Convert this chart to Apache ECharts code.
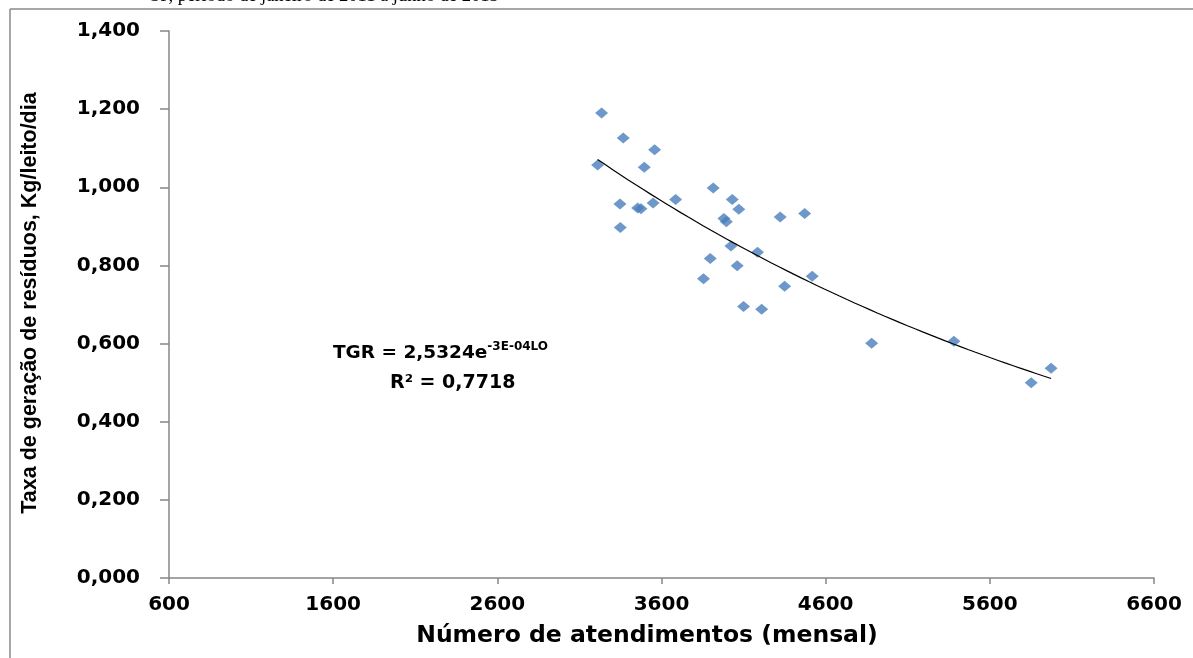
<!DOCTYPE html>
<html>
<head>
<meta charset="utf-8">
<script src="https://cdn.jsdelivr.net/npm/echarts@6/dist/echarts.min.js"></script>
<style>
html,body{margin:0;padding:0;background:#fff;overflow:hidden;}
#chart{width:1193px;height:658px;}
</style>
</head>
<body>
<div id="chart"></div>
<script>
// Data
const atendimentos = [3235, 3367, 3558, 3211, 3495, 3915, 4031, 3686, 3347, 3455, 3475, 3549, 4071, 3980, 3995, 4323, 4472, 3349, 4023, 4185, 3897, 4061, 3856, 4518, 4350, 4100, 4210, 4880, 5381, 5852, 5973];
const taxaGeracao = [1.190, 1.126, 1.096, 1.057, 1.051, 0.998, 0.969, 0.969, 0.957, 0.947, 0.945, 0.960, 0.944, 0.920, 0.912, 0.924, 0.933, 0.897, 0.850, 0.834, 0.818, 0.799, 0.766, 0.772, 0.747, 0.695, 0.688, 0.601, 0.606, 0.500, 0.537];
const xTicks = [600, 1600, 2600, 3600, 4600, 5600, 6600];
const yTickLabels = ['0,000', '0,200', '0,400', '0,600', '0,800', '1,000', '1,200', '1,400'];
const headerText = 'SP, período de janeiro de 2011 a junho de 2013';
const xTitle = 'Número de atendimentos (mensal)';
const yTitle = 'Taxa de geração de resíduos, Kg/leito/dia';

// Exponential trendline (least squares on ln y, as Excel does)
const n = atendimentos.length;
let sx = 0, sy = 0, sxx = 0, sxy = 0;
for (let i = 0; i < n; i++) {
  const x = atendimentos[i], ly = Math.log(taxaGeracao[i]);
  sx += x; sy += ly; sxx += x * x; sxy += x * ly;
}
const b = (n * sxy - sx * sy) / (n * sxx - sx * sx);
const a = Math.exp((sy - b * sx) / n);
const xMin = Math.min(...atendimentos), xMax = Math.max(...atendimentos);
const trend = [];
for (let k = 0; k <= 60; k++) {
  const x = xMin + (xMax - xMin) * k / 60;
  trend.push([x, a * Math.exp(b * x)]);
}

const scatterData = atendimentos.map((x, i) => [x, taxaGeracao[i]]);

const chart = echarts.init(document.getElementById('chart'), null, {renderer: 'canvas'});
const labelFont = {fontFamily: 'DejaVu Sans', fontWeight: 'bold', fontSize: 20, color: '#000'};
chart.setOption({
  animation: false,
  backgroundColor: '#fff',
  grid: {left: 169, right: 39, top: 31, bottom: 80, containLabel: false},
  xAxis: {
    type: 'value', min: 600, max: 6600, interval: 1000,
    splitLine: {show: false},
    axisLine: {show: true, onZero: false, lineStyle: {color: '#878787', width: 1.5}},
    axisTick: {show: true, length: 6, lineStyle: {color: '#878787', width: 1.5}},
    axisLabel: Object.assign({margin: 17, formatter: v => String(xTicks[Math.round((v - 600) / 1000)])}, labelFont)
  },
  yAxis: {
    type: 'value', min: 0, max: 1.4, interval: 0.2,
    splitLine: {show: false},
    axisLine: {show: true, lineStyle: {color: '#878787', width: 1.5}},
    axisTick: {show: true, length: 9, lineStyle: {color: '#878787', width: 1.5}},
    axisLabel: Object.assign({margin: 29, formatter: v => yTickLabels[Math.round(v / 0.2)]}, labelFont)
  },
  series: [
    {
      type: 'scatter', data: scatterData,
      symbol: 'diamond', symbolSize: [13, 11],
      itemStyle: {color: '#4A7EBB'}, z: 3
    },
    {
      type: 'line', data: trend, showSymbol: false, smooth: false,
      lineStyle: {color: '#000', width: 1.2}, z: 4
    }
  ],
  graphic: [
    {type: 'line', shape: {x1: 10, y1: 9, x2: 1193, y2: 9}, style: {stroke: '#8a8a8a', lineWidth: 1.5}, silent: true},
    {type: 'line', shape: {x1: 10, y1: 9, x2: 10, y2: 658}, style: {stroke: '#8a8a8a', lineWidth: 1.5}, silent: true},
    {type: 'text', left: 150, top: -13, style: {text: headerText, font: '18.5px "Liberation Serif"', fill: '#000'}},
    {type: 'text', x: 647, y: 636, style: {text: xTitle, font: 'bold 23.5px "DejaVu Sans"', fill: '#000', align: 'center', verticalAlign: 'middle'}},
    {type: 'text', x: 30, y: 303, rotation: Math.PI / 2, style: {text: yTitle, font: 'bold 21.5px "Liberation Sans"', fill: '#000', align: 'center', verticalAlign: 'middle'}},
    {type: 'text', x: 333, y: 353, style: {
      text: '{m|TGR = 2,5324e}{s|-3E-04LO}',
      rich: {
        m: {font: 'bold 18.5px "DejaVu Sans"', fill: '#000'},
        s: {font: 'bold 12px "DejaVu Sans"', fill: '#000', verticalAlign: 'top', padding: [0, 0, 12, 0]}
      },
      verticalAlign: 'middle'
    }},
    {type: 'text', x: 390, y: 383, style: {text: 'R² = 0,7718', font: 'bold 19px "DejaVu Sans"', fill: '#000', verticalAlign: 'middle'}}
  ]
});
</script>
</body>
</html>
